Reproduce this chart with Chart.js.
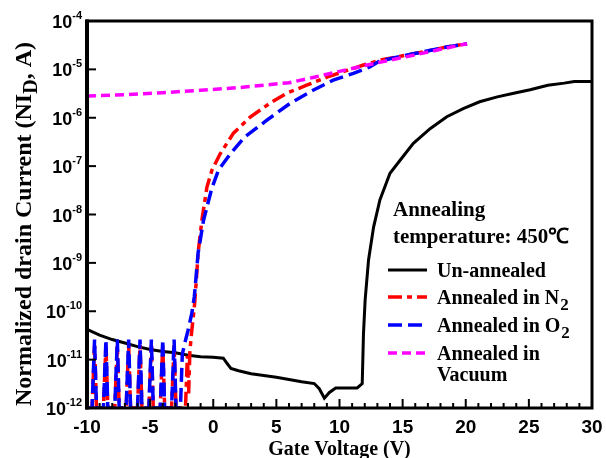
<!DOCTYPE html>
<html>
<head>
<meta charset="utf-8">
<script src="https://cdn.jsdelivr.net/npm/chart.js@4/dist/chart.umd.min.js"></script>
<style>
  html, body { margin: 0; padding: 0; background: #fff; }
  #wrap { width: 606px; height: 458px; position: relative; }
</style>
</head>
<body>
<div id="wrap"><canvas id="iv-chart" width="606" height="458"></canvas></div>
<script>
// gate voltage (V) / normalized drain current (A)
const unannealedV = [-10, -9, -8, -7, -6, -5, -4, -3, -2, -1, 0, 0.8, 1.1, 1.4, 2, 3, 4, 5, 6, 7, 8, 8.4, 8.8, 9.2, 9.7, 10.5, 11.4, 11.8, 11.9, 12.03, 12.3, 12.7, 13.2, 14.0, 14.8, 15.85, 17.2, 18.5, 19.8, 21.1, 22.5, 23.8, 25.1, 26.5, 27.8, 28.6, 30];
const unannealedI = [4.2e-11, 3.2e-11, 2.6e-11, 2.2e-11, 1.86e-11, 1.62e-11, 1.48e-11, 1.38e-11, 1.23e-11, 1.15e-11, 1.12e-11, 1.07e-11, 8.3e-12, 6.6e-12, 5.9e-12, 5.1e-12, 4.7e-12, 4.3e-12, 3.9e-12, 3.5e-12, 3.2e-12, 2.5e-12, 1.6e-12, 2.1e-12, 2.6e-12, 2.6e-12, 2.6e-12, 3.2e-12, 3.5e-11, 1.7e-10, 1.15e-9, 5.5e-9, 2e-8, 7.1e-8, 1.32e-7, 2.95e-7, 6e-7, 1.05e-6, 1.55e-6, 2.14e-6, 2.7e-6, 3.2e-6, 3.8e-6, 4.7e-6, 5.2e-6, 5.6e-6, 5.6e-6];

const n2V = [-10, -9.6, -9.4, -9.25, -8.7, -8.5, -8.35, -7.8, -7.6, -7.45, -6.9, -6.7, -6.55, -6.0, -5.8, -5.65, -5.1, -4.9, -4.75, -4.2, -4.0, -3.85, -3.3, -3.1, -2.95, -2.2, -2.05, -1.95, -1.85, -1.7, -1.5, -1.35, -1.2, -0.9, -0.5, -0.1, 0.55, 1.6, 2.9, 4.5, 5.8, 7.4, 9.0, 10.6, 11.9, 13.2, 15.85, 18.5, 20.1];
const n2I = [1e-12, 1e-12, 2e-11, 1e-12, 1e-12, 2e-11, 1e-12, 1e-12, 2e-11, 1e-12, 1e-12, 2e-11, 1e-12, 1e-12, 2e-11, 1e-12, 1e-12, 2e-11, 1e-12, 1e-12, 2e-11, 1e-12, 1e-12, 2e-11, 1e-12, 1e-12, 1.2e-11, 2e-12, 1.5e-11, 4e-11, 1.2e-10, 4e-10, 1.6e-9, 7.6e-9, 3.7e-8, 8.3e-8, 1.8e-7, 4.8e-7, 1.02e-6, 2e-6, 3.2e-6, 4.7e-6, 6.9e-6, 9.5e-6, 1.23e-5, 1.55e-5, 2.1e-5, 2.9e-5, 3.4e-5];

const o2V = [-10, -9.6, -9.4, -9.25, -8.7, -8.5, -8.35, -7.8, -7.6, -7.45, -6.9, -6.7, -6.55, -6.0, -5.8, -5.65, -5.1, -4.9, -4.75, -4.2, -4.0, -3.85, -3.3, -3.1, -2.95, -2.6, -2.45, -2.2, -2.0, -1.7, -1.5, -1.35, -1.2, -0.77, -0.1, 0.42, 1.35, 2.5, 4.25, 6.1, 7.9, 9.5, 11.1, 12.4, 13.2, 15.85, 18.5, 20.1];
const o2I = [1e-12, 1e-12, 2.6e-11, 1e-12, 1e-12, 2.6e-11, 1e-12, 1e-12, 2.6e-11, 1e-12, 1e-12, 2.6e-11, 1e-12, 1e-12, 2.6e-11, 1e-12, 1e-12, 2.6e-11, 1e-12, 1e-12, 2.6e-11, 1e-12, 1e-12, 2.6e-11, 1e-12, 1e-12, 1.3e-11, 2.5e-11, 4e-11, 9e-11, 2e-10, 5.5e-10, 1.6e-9, 7.6e-9, 3.6e-8, 8.3e-8, 1.8e-7, 4e-7, 8.9e-7, 2e-6, 3.7e-6, 6e-6, 8.3e-6, 1.12e-5, 1.5e-5, 2.1e-5, 2.9e-5, 3.4e-5];

const vacuumV = [-10, -7, -4, -1, 2, 4, 6, 8, 10, 12, 14, 16, 18, 20.1];
const vacuumI = [2.8e-6, 3.0e-6, 3.3e-6, 3.7e-6, 4.2e-6, 4.7e-6, 5.3e-6, 6.9e-6, 9.1e-6, 1.2e-5, 1.55e-5, 2.0e-5, 2.6e-5, 3.4e-5];

// axes
const xTickLabels = [-10, -5, 0, 5, 10, 15, 20, 25, 30];
const yTickExponents = [-12, -11, -10, -9, -8, -7, -6, -5, -4];

// legend
const legendTitle = ['Annealing', 'temperature: 450\u2103'];
const legendLabels = [['Un-annealed', ''], ['Annealed in N', '2'], ['Annealed in O', '2'], ['Annealed in', '']];
const legendExtraLine = 'Vacuum';

const SANS = '"Liberation Sans", Arial, sans-serif';
const SERIF = '"Liberation Serif", "Times New Roman", serif';

const ivChart = {
  toPoints(xs, ys) {
    return xs.map(function (v, i) {
      return { x: v, y: ys[i] };
    });
  },

  styles: [
    { color: '#000000', dash: [], width: 3 },
    { color: '#ff0000', dash: [14, 5, 5, 5], width: 3.5 },
    { color: '#0000ff', dash: [14, 6], width: 3.5 },
    { color: '#ff00ff', dash: [9, 5], width: 3.5 }
  ],

  frame: {
    id: 'frame',
    afterDraw(chart) {
      const ctx = chart.ctx;
      const area = chart.chartArea;
      const xs = chart.scales.x;
      const ys = chart.scales.y;

      ctx.save();
      ctx.strokeStyle = '#000';
      ctx.setLineDash([]);

      // ticks (inward)
      ctx.lineWidth = 2;
      for (let v = -10; v <= 30; v++) {
        const px = xs.getPixelForValue(v);
        const len = v % 5 === 0 ? 9 : 5;
        ctx.beginPath();
        ctx.moveTo(px, area.bottom);
        ctx.lineTo(px, area.bottom - len);
        ctx.stroke();
      }
      yTickExponents.forEach(function (e) {
        const py = ys.getPixelForValue(Math.pow(10, e));
        ctx.beginPath();
        ctx.moveTo(area.left, py);
        ctx.lineTo(area.left + 9, py);
        ctx.stroke();
      });

      // box
      ctx.lineWidth = 3;
      ctx.strokeRect(area.left, area.top, area.right - area.left, area.bottom - area.top);
      ctx.lineWidth = 4;
      ctx.beginPath();
      ctx.moveTo(area.left, area.top - 1.5);
      ctx.lineTo(area.left, area.bottom + 1.5);
      ctx.stroke();

      // tick labels
      ctx.fillStyle = '#000';
      ctx.font = 'bold 19px ' + SANS;
      ctx.textAlign = 'center';
      ctx.textBaseline = 'middle';
      xTickLabels.forEach(function (v) {
        ctx.fillText(String(v), xs.getPixelForValue(v), 428);
      });

      yTickExponents.forEach(function (e) {
        const py = ys.getPixelForValue(Math.pow(10, e));
        ctx.font = 'bold 11px ' + SANS;
        const ew = ctx.measureText(String(e)).width;
        ctx.textAlign = 'right';
        ctx.textBaseline = 'alphabetic';
        ctx.fillText(String(e), 82, py - 2);
        ctx.font = 'bold 18px ' + SANS;
        ctx.fillText('10', 82 - ew, py + 7);
      });

      // x title
      ctx.font = 'bold 20px ' + SERIF;
      ctx.textAlign = 'center';
      ctx.textBaseline = 'alphabetic';
      ctx.fillText('Gate Voltage (V)', (area.left + area.right) / 2, 455);

      // y title with subscript
      ctx.save();
      ctx.translate(22, 224);
      ctx.rotate(-Math.PI / 2);
      ctx.textAlign = 'left';
      const partA = 'Normalized drain Current (NI';
      const partB = 'D';
      const partC = ', A)';
      ctx.font = 'bold 24px ' + SERIF;
      const wa = ctx.measureText(partA).width;
      const wc = ctx.measureText(partC).width;
      ctx.font = 'bold 20px ' + SERIF;
      const wb = ctx.measureText(partB).width;
      let sx = -(wa + wb + wc) / 2;
      ctx.font = 'bold 24px ' + SERIF;
      ctx.fillText(partA, sx, 9);
      ctx.font = 'bold 20px ' + SERIF;
      ctx.fillText(partB, sx + wa, 15);
      ctx.font = 'bold 24px ' + SERIF;
      ctx.fillText(partC, sx + wa + wb, 9);
      ctx.restore();

      // legend
      ctx.textAlign = 'left';
      ctx.font = 'bold 21px ' + SERIF;
      ctx.fillText(legendTitle[0], 393, 216);
      ctx.fillText(legendTitle[1], 393, 243);

      const rowY = [270, 297, 325, 353];
      legendLabels.forEach(function (lab, i) {
        const st = ivChart.styles[i];
        ctx.strokeStyle = st.color;
        ctx.lineWidth = st.width;
        ctx.setLineDash(st.dash);
        ctx.beginPath();
        ctx.moveTo(388, rowY[i]);
        ctx.lineTo(427, rowY[i]);
        ctx.stroke();
        ctx.setLineDash([]);
        ctx.font = 'bold 20px ' + SERIF;
        ctx.fillText(lab[0], 437, rowY[i] + 7);
        if (lab[1]) {
          const w = ctx.measureText(lab[0]).width;
          ctx.font = 'bold 17px ' + SERIF;
          ctx.fillText(lab[1], 437 + w + 1, rowY[i] + 13);
        }
      });
      ctx.font = 'bold 20px ' + SERIF;
      ctx.fillText(legendExtraLine, 437, 381);

      ctx.restore();
    }
  },

  buildDatasets() {
    const series = [
      { label: 'Un-annealed', xs: unannealedV, ys: unannealedI, order: 4 },
      { label: 'Annealed in N2', xs: n2V, ys: n2I, order: 3 },
      { label: 'Annealed in O2', xs: o2V, ys: o2I, order: 2 },
      { label: 'Annealed in Vacuum', xs: vacuumV, ys: vacuumI, order: 1 }
    ];

    return series.map(function (s, i) {
      const st = ivChart.styles[i];
      return {
        label: s.label,
        data: ivChart.toPoints(s.xs, s.ys),
        borderColor: st.color,
        borderWidth: st.width,
        borderDash: st.dash,
        pointRadius: 0,
        tension: 0,
        fill: false,
        order: s.order
      };
    });
  },

  init() {
    const ctx = document.getElementById('iv-chart');
    new Chart(ctx, {
      type: 'line',
      data: { datasets: this.buildDatasets() },
      options: {
        responsive: false,
        animation: false,
        devicePixelRatio: 1,
        layout: { padding: { left: 0, right: 14, top: 21, bottom: 0 } },
        scales: {
          x: {
            type: 'linear',
            min: -10,
            max: 30,
            grid: { display: false },
            border: { display: false },
            ticks: { display: false },
            afterFit: function (scale) { scale.height = 50; }
          },
          y: {
            type: 'logarithmic',
            min: 1e-12,
            max: 1e-4,
            grid: { display: false },
            border: { display: false },
            ticks: { display: false },
            afterFit: function (scale) { scale.width = 87; }
          }
        },
        plugins: {
          legend: { display: false },
          tooltip: { enabled: false }
        }
      },
      plugins: [this.frame]
    });
  }
};

ivChart.init();
</script>
</body>
</html>
